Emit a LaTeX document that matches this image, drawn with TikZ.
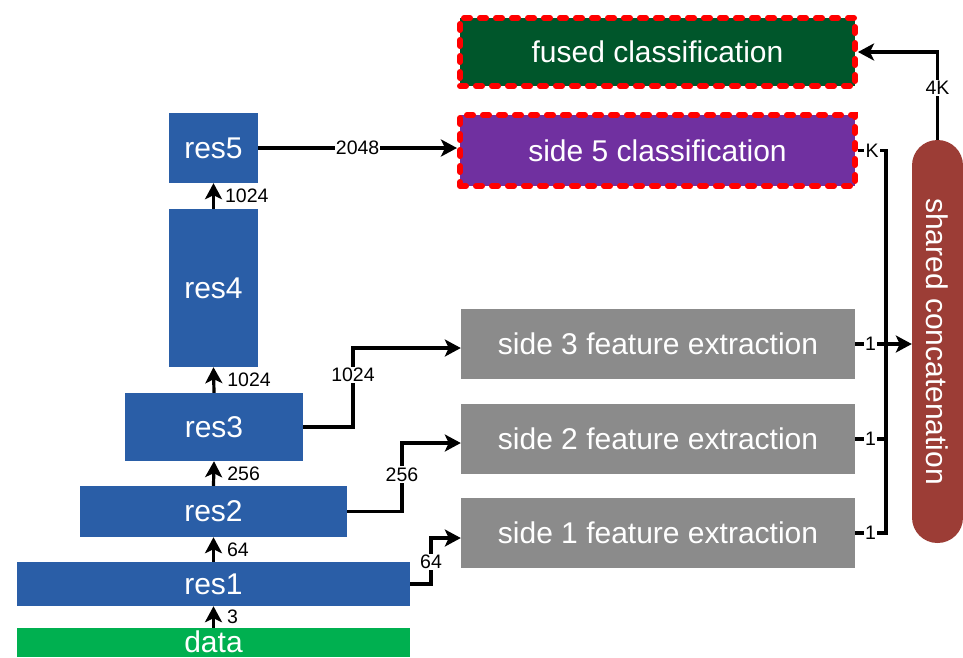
\documentclass[tikz,border=0pt]{standalone}
\usepackage{fontspec}
\setmainfont{Liberation Sans}
\usepackage{graphicx}
\usetikzlibrary{arrows.meta,calc}
\definecolor{resblue}{HTML}{2A5EA7}
\definecolor{datagreen}{HTML}{00B050}
\definecolor{fusedgreen}{HTML}{00562B}
\definecolor{sidepurple}{HTML}{7030A0}
\definecolor{featgray}{HTML}{8B8B8B}
\definecolor{pillred}{HTML}{9C3D36}
\begin{document}
\begin{tikzpicture}[x=1pt,y=-1pt,
  box/.style={inner sep=0pt, text=white, font=\fontsize{30}{33}\selectfont},
  resbox/.style={box, fill=resblue},
  featbox/.style={box, fill=featgray, minimum width=394pt, minimum height=70pt},
  clsbox/.style={box, draw=red, line width=6pt, dash pattern=on 6pt off 10pt, line cap=round, minimum width=395pt},
  conn/.style={line width=3.2pt, draw=black},
  arr/.style={conn, -{Stealth[length=16pt,width=17pt,inset=4pt]}},
  lbl/.style={fill=white, inner sep=1.2pt, text=black, font=\fontsize{19.5}{21}\selectfont},
  vlbl/.style={anchor=west, inner sep=0pt, xshift=12pt, text=black, font=\fontsize{19.5}{21}\selectfont}
]
\useasboundingbox (0,0) rectangle (963,657);

% backbone
\node[box, fill=datagreen, minimum width=393pt, minimum height=29pt] (data) at (213.5,642.5) {\raisebox{2.5pt}{data}};
\node[resbox, minimum width=393pt, minimum height=44pt] (res1) at (213.5,584) {res1};
\node[resbox, minimum width=267pt, minimum height=51pt] (res2) at (213.5,511.5) {res2};
\node[resbox, minimum width=178pt, minimum height=68pt] (res3) at (214,427) {res3};
\node[resbox, minimum width=89pt, minimum height=158pt] (res4) at (213.5,288) {res4};
\node[resbox, minimum width=89pt, minimum height=70pt] (res5) at (213.5,148) {res5};

% side branches
\node[clsbox, fill=fusedgreen, minimum height=68pt] (fused) at (657.5,52) {fused classification};
\node[clsbox, fill=sidepurple, minimum height=71pt] (s5) at (657.5,150.5) {side 5 classification};
\node[featbox] (s3) at (658,344) {side 3 feature extraction};
\node[featbox] (s2) at (658,439) {side 2 feature extraction};
\node[featbox] (s1) at (658,533) {side 1 feature extraction};

% shared concatenation
\node[box, fill=pillred, minimum width=51pt, minimum height=403pt, rounded corners=25.4pt] (pill) at (937.5,341.5) {\rotatebox{-90}{shared concatenation}};

% vertical backbone arrows
\draw[arr] (data.north) -- node[vlbl]{3} (res1.south);
\draw[arr] (res1.north) -- node[vlbl]{64} (res2.south);
\draw[arr] (res2.north) -- node[vlbl]{256} (res3.south);
\draw[arr] (res3.north) -- node[vlbl]{1024} (res4.south);
\draw[arr] (res4.north) -- node[vlbl,xshift=-2pt]{1024} (res5.south);

% res5 -> side5
\draw[arr] (res5.east) -- node[lbl]{2048} (res5.east -| s5.west);

% bent side connectors
\coordinate (b3) at (353,348);
\coordinate (b2) at (402,443);
\coordinate (b1) at (431,538);
\draw[arr] (res3.east) -- (res3.east -| b3) -- node[lbl,pos=0.66]{1024} (b3) -- (b3 -| s3.west);
\draw[arr] (res2.east) -- (res2.east -| b2) -- node[lbl,pos=0.54]{256} (b2) -- (b2 -| s2.west);
\draw[arr] (res1.east) -- (res1.east -| b1) -- node[lbl,pos=0.48]{64} (b1) -- (b1 -| s1.west);

% collector bus
\coordinate (busT) at (886,150.5);
\coordinate (busB) at (886,533);
\draw[conn] (s5.east) -- node[lbl]{K} (busT) -- (busB) -- node[lbl]{1} (s1.east);
\draw[conn] (s3.east) -- node[lbl]{1} (s3.east -| busT);
\draw[conn] (s2.east) -- node[lbl]{1} (s2.east -| busT);
\draw[arr] (s3.east -| busT) -- (pill.west |- s3.east);

% pill -> fused
\draw[arr] (pill.north) -- node[lbl,pos=0.59]{4K} (pill.north |- fused.east) -- (fused.east);
\end{tikzpicture}
\end{document}
